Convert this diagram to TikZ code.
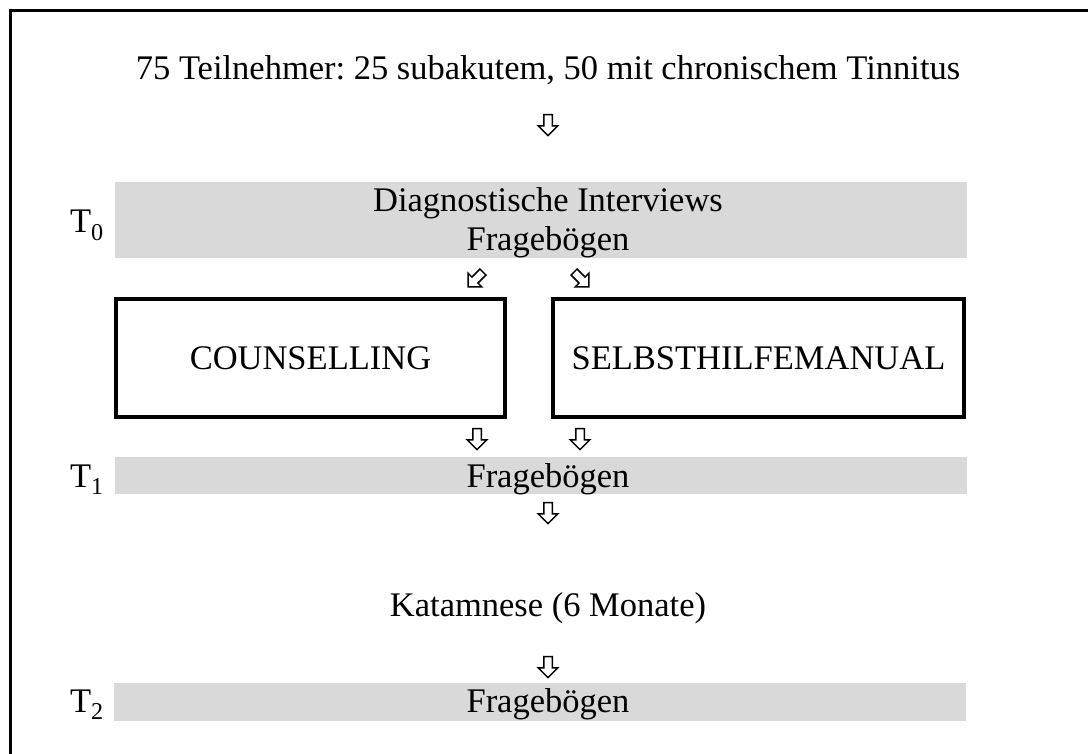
\documentclass[tikz,border=0pt]{standalone}
\usepackage{fontspec}
\setmainfont{Liberation Serif}
\usetikzlibrary{shapes.arrows}
\definecolor{barfill}{HTML}{D9D9D9}

\begin{document}
\frenchspacing
\begin{tikzpicture}[x=1pt, y=-1pt, font=\fontsize{34.5}{39}\selectfont,
  bar/.style={fill=barfill, inner sep=0, minimum width=852},
  txt/.style={anchor=base, inner sep=0},
  groupbox/.style={draw, line width=4, inner sep=0},
  hollow/.style={single arrow, draw, line width=1.5, inner xsep=0, inner ysep=3.5,
    single arrow head extend=5.5, minimum height=21}]
\useasboundingbox (0,0) rectangle (1088,754);
\draw[line width=3] (10.5,754) -- (10.5,10.5) -- (1088,10.5);

\node [txt] (teiln) at (548,80) {75 Teilnehmer: 25 subakutem, 50 mit chronischem Tinnitus};
\node [hollow, rotate=-90] (p1) at (548,123) {};

% T0
\node [bar, minimum height=76] (bar0) at (541,220) {};
\node [txt] (t0) at (87,233) {T\textsubscript{0}};
\node [txt] (interv) at (548,212) {Diagnostische Interviews};
\node [txt] (frag0) at (548,251) {Fragebögen};
\node [hollow, rotate=-135] (p2) at (477,278) {};
\node [hollow, rotate=-45] (p3) at (580,278) {};

% Gruppen
\node [groupbox, minimum width=389, minimum height=118] (couns) at (310.5,358) {COUNSELLING};
\node [groupbox, minimum width=411, minimum height=118] (manual) at (758.5,358) {SELBSTHILFEMANUAL};
\node [hollow, rotate=-90] (p4) at (477,437) {};
\node [hollow, rotate=-90] (p5) at (580,437) {};

% T1
\node [bar, minimum height=37] (bar1) at (540.5,475.5) {};
\node [txt] (t1) at (87,487) {T\textsubscript{1}};
\node [txt] (frag1) at (548,487) {Fragebögen};
\node [hollow, rotate=-90] (p6) at (548,511) {};

\node [txt] (katam) at (548,616) {Katamnese (6 Monate)};
\node [hollow, rotate=-90] (p7) at (548,665) {};

% T2
\node [bar, minimum height=38] (bar2) at (540,702) {};
\node [txt] (t2) at (87,712) {T\textsubscript{2}};
\node [txt] (frag2) at (548,712) {Fragebögen};
\end{tikzpicture}
\end{document}
